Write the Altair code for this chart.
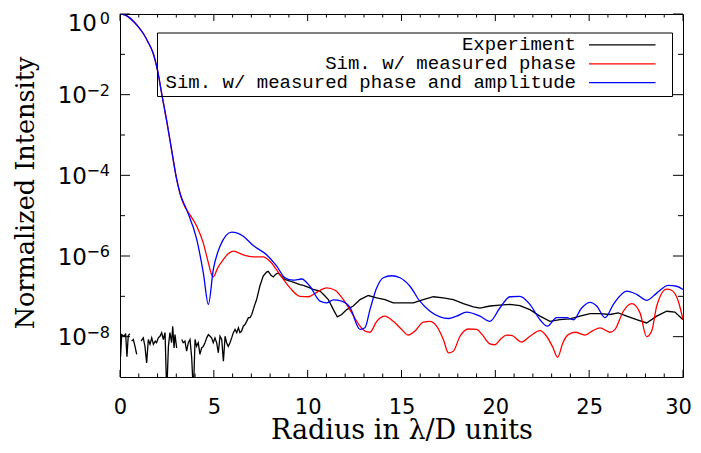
import altair as alt
import pandas as pd

# ---------------- data (y values are log10 of intensity) -------------
core_x = [0.0, 0.25, 0.5, 0.75, 1.0, 1.25, 1.5, 1.75, 2.0, 2.25, 2.5, 2.75, 3.0, 3.2]
core_log = [0.0, -0.02, -0.09, -0.2, -0.33, -0.49, -0.7, -0.95, -1.4, -2.05, -2.68, -3.37, -4.05, -4.45]

red_x = [3.37, 3.73, 4.09, 4.44, 4.70, 4.88, 4.97, 5.20, 5.50, 5.75, 6.04, 6.30, 6.57, 7.10, 7.63,
         7.99, 8.52, 9.06, 9.59, 10.03, 10.48, 11.01, 11.46, 11.90, 12.35, 12.79, 13.05, 13.32,
         13.68, 14.12, 14.56, 15.01, 15.36, 15.72, 16.16, 16.52, 16.87, 17.23, 17.50, 17.76,
         18.12, 18.56, 19.00, 19.30, 19.71, 19.98, 20.30, 20.60, 20.87, 21.40, 21.84, 22.38,
         22.73, 23.05, 23.32, 23.60, 23.89, 24.25, 24.78, 25.20, 25.58, 26.11, 26.38, 26.82,
         27.27, 27.71, 28.06, 28.33, 28.60, 29.13, 29.39, 29.75, 30.00]
red_log = [-4.69, -4.98, -5.26, -5.68, -6.15, -6.46, -6.52, -6.30, -6.09, -5.95, -5.88, -5.92,
           -5.97, -6.02, -6.02, -6.13, -6.46, -6.79, -7.00, -7.01, -6.90, -6.79, -6.85, -7.08,
           -7.41, -7.74, -7.86, -7.89, -7.62, -7.49, -7.62, -7.82, -7.96, -7.86, -7.64, -7.62,
           -7.74, -8.07, -8.40, -8.36, -7.99, -7.81, -7.82, -7.95, -8.18, -8.20, -8.05, -7.96,
           -7.97, -8.13, -7.99, -7.85, -7.99, -8.25, -8.51, -8.15, -7.95, -7.89, -7.96, -7.85,
           -7.78, -7.89, -7.82, -7.37, -7.18, -7.41, -8.00, -7.86, -7.24, -6.82, -6.85, -7.12,
           -7.58]

blue_x = [3.55, 4.09, 4.44, 4.71, 4.97, 5.33, 5.95, 6.57, 7.10, 7.81, 8.35, 8.79, 9.23, 9.68,
          10.12, 10.66, 11.01, 11.37, 11.81, 12.26, 12.79, 13.05, 13.32, 13.68, 14.03, 14.47,
          14.92, 15.45, 15.98, 16.52, 17.05, 17.50, 17.94, 18.47, 19.18, 19.71, 20.24, 20.78,
          21.31, 21.84, 22.38, 22.77, 23.27, 23.80, 24.16, 24.60, 25.05, 25.40, 25.85, 26.29,
          27.00, 27.53, 28.06, 28.60, 29.22, 29.66, 30.00]
blue_log = [-4.85, -5.59, -6.42, -7.20, -6.34, -5.76, -5.41, -5.51, -5.74, -5.97, -6.25, -6.54,
            -6.60, -6.57, -6.75, -7.12, -7.16, -7.09, -7.12, -7.28, -7.82, -7.78, -7.33, -6.79,
            -6.54, -6.49, -6.54, -6.75, -7.12, -7.37, -7.51, -7.55, -7.49, -7.39, -7.49, -7.62,
            -7.29, -7.01, -7.00, -7.20, -7.58, -7.74, -7.53, -7.53, -7.58, -7.29, -7.15, -7.24,
            -7.53, -7.20, -6.87, -6.95, -7.10, -6.92, -6.73, -6.75, -6.83]

exp_x = [0.00, 0.03, 0.09, 0.23, 0.30, 0.37, 0.44, 0.53, 0.58, 0.62, 0.71, 0.80, 0.89, 1.00,
         1.12, 1.24, 1.33, 1.42, 1.51, 1.60, 1.69, 1.78, 1.88, 1.95, 2.04, 2.13, 2.22, 2.31,
         2.40, 2.49, 2.58, 2.66, 2.75, 2.81, 2.88, 2.93, 3.02, 3.15, 3.29, 3.37, 3.46, 3.55,
         3.64, 3.73, 3.82, 3.91, 4.00, 4.08, 4.17, 4.26, 4.35, 4.44, 4.53, 4.62, 4.71, 4.80,
         4.88, 4.97, 5.06, 5.15, 5.24, 5.33, 5.42, 5.51, 5.60, 5.68, 5.77, 5.86, 5.95, 6.04,
         6.13, 6.22, 6.31, 6.39, 6.48, 6.57, 6.66, 6.75, 6.84, 6.93, 7.02, 7.10, 7.19, 7.28,
         7.45, 7.63, 7.81, 7.90, 8.05, 8.17, 8.30, 8.43, 8.60, 8.79, 9.06, 9.23, 9.59, 9.77,
         10.12, 10.30, 10.66, 10.90, 11.10, 11.37, 11.58, 11.81, 12.08, 12.43, 12.79, 13.23,
         13.68, 14.12, 14.56, 15.10, 15.63, 16.16, 16.70, 17.23, 17.76, 18.30, 18.83, 19.18,
         19.71, 20.24, 20.78, 21.31, 21.84, 22.38, 22.91, 23.44, 23.98, 24.51, 25.05, 25.58,
         26.11, 26.55, 27.00, 27.53, 28.06, 28.60, 29.13, 29.57, 30.00]
exp_log = [-7.74, -8.50, -7.95, -7.99, -7.92, -8.50, -7.97, -7.93, None, -8.11, -8.07, -8.24,
           -8.44, None, -8.11, -8.03, -8.24, -8.65, -8.07, -8.19, -8.03, -8.19, -8.11, -8.15,
           -8.03, -7.99, -7.90, -8.07, -7.90, -9.40, -8.24, -7.90, -8.15, -7.74, -8.28, -7.95,
           -8.28, None, -8.07, -8.15, -8.11, -8.36, -8.15, -8.07, -8.52, -9.40, -8.07, -8.24,
           -8.15, -8.44, -8.28, -8.24, -8.15, -8.03, -7.95, -7.99, -8.03, -8.15, -8.03, -8.15,
           -8.40, -7.99, -8.07, -8.61, -7.99, -8.15, -8.24, -8.15, -8.03, -7.90, -7.82, -7.90,
           -7.78, -7.90, -7.86, -7.74, -7.70, -7.62, -7.53, -7.53, -7.45, -7.33, -7.20, -7.08,
           -6.75, -6.50, -6.40, -6.38, -6.48, -6.52, -6.45, -6.42, -6.50, -6.58, -6.62, -6.65,
           -6.71, -6.73, -6.79, -6.83, -6.87, -6.98, -7.08, -7.33, -7.51, -7.45, -7.33, -7.24,
           -7.08, -6.98, -7.04, -7.08, -7.16, -7.16, -7.16, -7.08, -7.01, -7.04, -7.08, -7.18,
           -7.26, -7.29, -7.24, -7.22, -7.20, -7.23, -7.33, -7.49, -7.62, -7.58, -7.56, -7.49,
           -7.43, -7.43, -7.45, -7.41, -7.49, -7.58, -7.66, -7.49, -7.37, -7.39, -7.58]

series_names = ["Experiment", "Sim. w/ measured phase", "Sim. w/ measured phase and amplitude"]
series_colors = ["#000000", "#ff0000", "#0000ff"]

x_major = [0, 5, 10, 15, 20, 25, 30]
x_minor = [i for i in range(31) if i % 5 != 0]
y_major_exp = [0, -2, -4, -6, -8]
y_minor_exp = [-1, -3, -5, -7]
y_label_base = "10"

x_title = "Radius in λ/D units"
y_title = "Normalized Intensity"

# ---------------- tables ----------------
def to_int(v):
    return None if v is None else 10.0 ** v

df_exp = pd.DataFrame({"x": exp_x, "y": [to_int(v) for v in exp_log], "series": series_names[0]})
df_red = pd.DataFrame({"x": core_x + red_x, "y": [to_int(v) for v in core_log + red_log],
                       "series": series_names[1]})
df_blue = pd.DataFrame({"x": core_x + blue_x, "y": [to_int(v) for v in core_log + blue_log],
                        "series": series_names[2]})
df_ylab = pd.DataFrame({
    "y": [10.0 ** e for e in y_major_exp],
    "e": y_major_exp,
    "base": [y_label_base] * len(y_major_exp),
    "ex": [("\u2212" + str(-e)) if e < 0 else str(e) for e in y_major_exp],
})

W, H = 563, 363
xscale = alt.Scale(domain=[0, 30], nice=False, zero=False)
yscale = alt.Scale(type="log", domain=[1e-9, 1], nice=False)
cscale = alt.Scale(domain=series_names, range=series_colors)

title_font = "DejaVu Serif"
x_axis = alt.Axis(values=x_major, title=x_title, ticks=False, domain=False, grid=False,
                  labelFlush=False, labelFont="DejaVu Sans", labelFontSize=21,
                  labelPadding=19, labelColor="black",
                  labelOffset={"condition": {"test": "datum.value == 30", "value": -5}, "value": 0},
                  titleFont=title_font, titleFontSize=27, titleFontWeight="normal",
                  titleColor="black", titleBaseline="alphabetic", titleY=61.5)
y_axis = alt.Axis(values=[10.0 ** e for e in y_major_exp], title=y_title, ticks=False,
                  domain=False, grid=False, labels=False,
                  titleFont=title_font, titleFontSize=25.5, titleFontWeight="normal",
                  titleColor="black", titleAngle=270, titleBaseline="alphabetic",
                  titleX=-87, titleY=H / 2 - 3, titleAlign="center")


def X(field="x"):
    return alt.X(field + ":Q", scale=xscale, axis=x_axis, title=x_title)


def Y(field="y"):
    return alt.Y(field + ":Q", scale=yscale, axis=y_axis, title=y_title)


def line_layer(df, interp):
    return alt.Chart(df).mark_line(clip=True, strokeWidth=1.3, interpolate=interp).encode(
        x=X(), y=Y(),
        color=alt.Color("series:N", scale=cscale, legend=None),
    )


layers = [
    line_layer(df_exp, "linear"),
    line_layer(df_red, "monotone"),
    line_layer(df_blue, "monotone"),
]

# inward ticks
df_xmaj = pd.DataFrame({"x": x_major})
df_xmin = pd.DataFrame({"x": x_minor})
df_ymaj = pd.DataFrame({"y": [10.0 ** e for e in y_major_exp]})
df_ymin = pd.DataFrame({"y": [10.0 ** e for e in y_minor_exp]})

for d, ln in [(df_xmaj, 7), (df_xmin, 3.5)]:
    layers.append(alt.Chart(d).mark_rule(color="black", strokeWidth=1).encode(
        x=X(), y=alt.value(H), y2=alt.value(H - ln)))
    layers.append(alt.Chart(d).mark_rule(color="black", strokeWidth=1).encode(
        x=X(), y=alt.value(0), y2=alt.value(ln)))
for d, ln in [(df_ymaj, 10), (df_ymin, 5)]:
    layers.append(alt.Chart(d).mark_rule(color="black", strokeWidth=1).encode(
        y=Y(), x=alt.value(0), x2=alt.value(ln)))
    layers.append(alt.Chart(d).mark_rule(color="black", strokeWidth=1).encode(
        y=Y(), x=alt.value(W), x2=alt.value(W - ln)))

# y tick labels "10" with a raised exponent
lab_font = "DejaVu Sans"
top_lab = alt.Chart(df_ylab).transform_filter("datum.e == 0")
neg_lab = alt.Chart(df_ylab).transform_filter("datum.e < 0")
layers += [
    top_lab.mark_text(align="right", baseline="middle", font=lab_font, fontSize=23,
                      color="black", dy=10).encode(y=Y(), x=alt.value(-23), text="base:N"),
    top_lab.mark_text(align="right", baseline="middle", font=lab_font, fontSize=16,
                      color="black", dy=5).encode(y=Y(), x=alt.value(-10), text="ex:N"),
    neg_lab.mark_text(align="right", baseline="middle", font=lab_font, fontSize=23,
                      color="black", dy=1.5).encode(y=Y(), x=alt.value(-33), text="base:N"),
    neg_lab.mark_text(align="right", baseline="middle", font=lab_font, fontSize=16,
                      color="black", dy=-4).encode(y=Y(), x=alt.value(-10), text="ex:N"),
]

# legend box (custom: text right-aligned, sample line to its right)
box_df = pd.DataFrame({"k": [0]})
layers.append(alt.Chart(box_df).mark_rect(fillOpacity=0, stroke="black", strokeWidth=1).encode(
    x=alt.value(37.5), x2=alt.value(552.5), y=alt.value(19), y2=alt.value(82.5)))
row_y = [30.8, 49.8, 68.7]
for i, (name, col) in enumerate(zip(series_names, series_colors)):
    ldf = pd.DataFrame({"name": [name]})
    layers.append(alt.Chart(ldf).mark_text(align="right", baseline="middle", font="Liberation Mono",
                                           fontSize=19, color="black").encode(
        text="name:N", x=alt.value(456), y=alt.value(row_y[i] - 1)))
    layers.append(alt.Chart(ldf).mark_rule(strokeWidth=1.3).encode(
        x=alt.value(469), x2=alt.value(535.5), y=alt.value(row_y[i]), color=alt.value(col)))

chart = alt.layer(*layers).properties(
    width=W, height=H,
    autosize=alt.AutoSizeParams(type="none"),
    padding={"left": 112, "top": 6, "right": 10, "bottom": 68},
).configure_view(stroke="black", strokeWidth=1)

chart.save("out.html", embed_options={"renderer": "svg", "actions": False})
